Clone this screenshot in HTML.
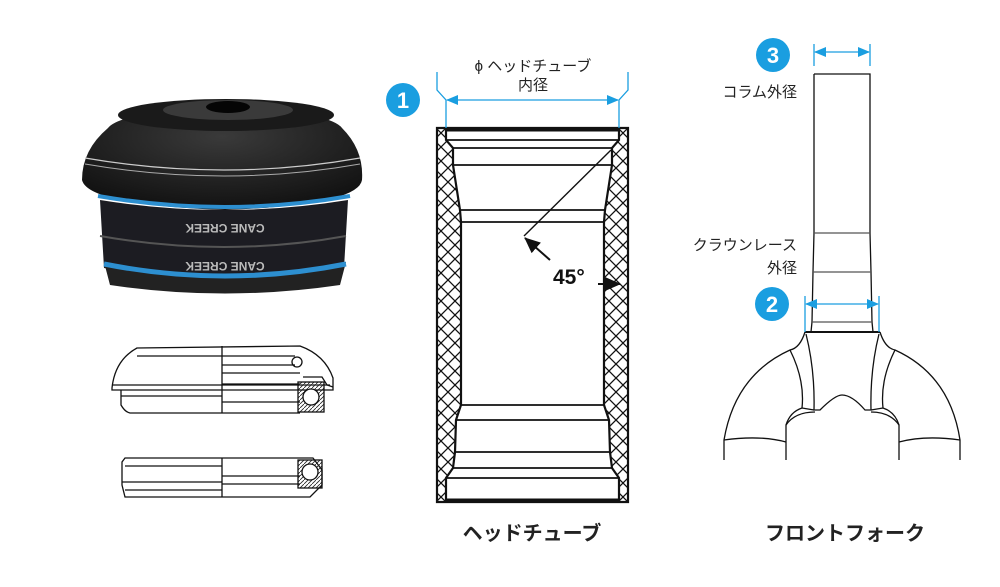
<!DOCTYPE html>
<html><head><meta charset="utf-8"><style>
html,body{margin:0;padding:0;background:#fff;}
svg{display:block;font-family:"Liberation Sans","Noto Sans CJK JP",sans-serif;}
</style></head><body>
<svg width="1000" height="587" viewBox="0 0 1000 587" xmlns="http://www.w3.org/2000/svg">
<defs>
<pattern id="h" width="14" height="14" patternUnits="userSpaceOnUse">
<path d="M0 0L14 14M14 0L0 14" stroke="#111" stroke-width="1.3"/>
</pattern>
<pattern id="hs" width="4" height="4" patternUnits="userSpaceOnUse">
<path d="M0 4L4 0" stroke="#222" stroke-width="0.8"/>
</pattern>
<marker id="a" markerWidth="12" markerHeight="10" refX="11" refY="5" orient="auto" markerUnits="userSpaceOnUse"><path d="M0 0L12 5L0 10z" fill="#1a9ee0"/></marker>
<marker id="k" markerWidth="16" markerHeight="14" refX="15" refY="7" orient="auto" markerUnits="userSpaceOnUse"><path d="M0 0L16 7L0 14z" fill="#111"/></marker>
<radialGradient id="g" cx="0.5" cy="0.3" r="0.8"><stop offset="0" stop-color="#3a3a3a"/><stop offset="1" stop-color="#0c0c0c"/></radialGradient>
</defs>

<!-- Headset photo -->
<g>
<path d="M82 180 Q82 150 108 128 Q120 112 225 105 Q330 112 342 128 Q364 150 362 180 Q358 205 225 210 Q88 205 82 180z" fill="url(#g)"/>
<ellipse cx="226" cy="115" rx="108" ry="16" fill="#1a1a1a"/>
<ellipse cx="228" cy="110" rx="65" ry="10" fill="#3a3a3a"/>
<ellipse cx="228" cy="107" rx="22" ry="6" fill="#050505"/>
<path d="M85 158 Q225 182 360 158" stroke="#ccc" stroke-width="1.2" fill="none"/>
<path d="M85 164 Q225 188 360 164" stroke="#aaa" stroke-width="1" fill="none"/>
<path d="M100 200 Q225 220 348 200 L344 268 Q225 290 104 268z" fill="#1c1c22"/>
<path d="M98 196 Q225 218 350 196" stroke="#2d8fd0" stroke-width="4" fill="none"/>
<path d="M100 236 Q225 258 346 236" stroke="#555" stroke-width="2" fill="none"/>
<path d="M104 262 Q225 286 346 262 L340 285 Q225 302 110 285z" fill="#222"/>
<path d="M104 264 Q225 288 346 264" stroke="#2d8fd0" stroke-width="5" fill="none"/>
<text x="225" y="232" font-size="12" font-weight="bold" fill="#bbb" text-anchor="middle" transform="rotate(180 225 228)">CANE CREEK</text>
<text x="225" y="270" font-size="12" font-weight="bold" fill="#bbb" text-anchor="middle" transform="rotate(180 225 266)">CANE CREEK</text>
</g>

<!-- Bearing schematics -->
<g stroke="#111" fill="none" stroke-width="1.3">
<path d="M112 388 Q115 360 137 348 L300 346 Q325 355 333 378 L333 390 L112 390z" fill="#fff"/>
<path d="M112 385 L330 385 M121 390 L121 405 Q125 412 130 413 L300 413"/>
<path d="M121 396 L222 396 M137 356 L222 356 M222 346 L222 413"/>
<path d="M222 356 L295 356 M222 365 L295 365 M222 373 L300 373 M222 384 L300 384 M222 402 L300 402"/>
<circle cx="297" cy="362" r="5"/>
<rect x="298" y="382" width="26" height="30" fill="url(#hs)"/>
<circle cx="311" cy="397" r="8" fill="#fff"/>
<path d="M303 377 L322 377 L327 385 L333 387"/>
<path d="M122 462 L122 485 L125 497 L310 497 L322 485 L322 470 L313 458 L125 458z"/>
<path d="M125 466 L222 466 M122 482 L222 482 M125 490 L222 490 M222 458 L222 497 M222 476 L300 476 M222 484 L300 484"/>
<rect x="298" y="460" width="24" height="28" fill="url(#hs)"/>
<circle cx="310" cy="472" r="8" fill="#fff"/>
</g>

<!-- Head tube -->
<g>
<path d="M437 128 L628 128 L628 502 L437 502z M446 129 L446 140 L453 148 L453 165 L460 210 L461 222 L461 405 L456 420 L455 452 L453 468 L446 478 L446 500 L619 500 L619 478 L612 468 L610 452 L609 420 L604 405 L604 222 L605 210 L612 165 L612 148 L619 140 L619 129z" fill="url(#h)" fill-rule="evenodd" stroke="#111" stroke-width="2.2"/>
<g stroke="#111" stroke-width="1.8">
<line x1="446" y1="130" x2="619" y2="130" stroke-width="3"/>
<line x1="446" y1="140" x2="619" y2="140"/>
<line x1="453" y1="148" x2="612" y2="148"/>
<line x1="453" y1="165" x2="612" y2="165"/>
<line x1="460" y1="210" x2="605" y2="210"/>
<line x1="461" y1="222" x2="604" y2="222"/>
<line x1="461" y1="405" x2="604" y2="405"/>
<line x1="456" y1="420" x2="609" y2="420"/>
<line x1="455" y1="452" x2="610" y2="452"/>
<line x1="453" y1="468" x2="612" y2="468"/>
<line x1="446" y1="478" x2="619" y2="478"/>
<line x1="446" y1="500" x2="619" y2="500" stroke-width="3"/>
<line x1="611" y1="150" x2="524" y2="236" stroke-width="1.4"/>
<line x1="550" y1="260" x2="525" y2="238" marker-end="url(#k)" stroke-width="2"/>
<line x1="598" y1="284" x2="620" y2="284" marker-end="url(#k)" stroke-width="2"/>
</g>
<text x="553" y="284" font-size="21" font-weight="bold" fill="#111">45°</text>
<g stroke="#1a9ee0" stroke-width="1.3" fill="none">
<path d="M437 72 L437 90 L446 100 L446 128"/>
<path d="M628 72 L628 90 L619 100 L619 128"/>
<line x1="532" y1="100" x2="618" y2="100" marker-end="url(#a)"/>
<line x1="532" y1="100" x2="447" y2="100" marker-end="url(#a)"/>
</g>
<text x="533" y="71" font-size="15" fill="#222" text-anchor="middle">ϕ ヘッドチューブ</text>
<text x="533" y="90" font-size="15" fill="#222" text-anchor="middle">内径</text>
<circle cx="403" cy="100" r="17" fill="#1a9ee0"/>
<text x="403" y="108" font-size="22" font-weight="bold" fill="#fff" text-anchor="middle">1</text>
<text x="532" y="540" font-size="20" font-weight="bold" fill="#222" text-anchor="middle">ヘッドチューブ</text>
</g>

<!-- Fork -->
<g stroke="#111" fill="none" stroke-width="1.3">
<path d="M814 74 L870 74 L870 233 L871 272 L872 322 L873 332 M814 74 L814 233 L813 272 L812 322 L811 332"/>
<path d="M814 233 L870 233 M813 272 L871 272 M812 322 L872 322" stroke="#555"/>
<line x1="805" y1="332" x2="880" y2="332" stroke-width="2"/>
<path d="M805 332 Q800 348 790 350 Q735 375 724 440 L724 460"/>
<path d="M880 332 Q885 348 895 350 Q950 375 960 440 L960 460"/>
<path d="M790 350 Q805 380 802 408 Q790 412 786 425 L786 460"/>
<path d="M895 350 Q880 380 883 408 Q895 412 899 425 L899 460"/>
<path d="M806 334 Q815 370 814 410 L820 410 Q835 395 842 395 Q852 395 865 410 L871 410 Q870 370 879 334"/>
<path d="M786 425 Q795 412 815 412 M899 425 Q890 412 871 412"/>
<path d="M724 440 Q760 435 786 442 M960 440 Q925 435 899 442"/>
<path d="M802 408 L814 410 M883 408 L871 410"/>
</g>
<g stroke="#1a9ee0" stroke-width="1.3" fill="none">
<line x1="814" y1="44" x2="814" y2="66"/>
<line x1="870" y1="44" x2="870" y2="66"/>
<line x1="842" y1="52" x2="815" y2="52" marker-end="url(#a)"/>
<line x1="842" y1="52" x2="869" y2="52" marker-end="url(#a)"/>
<line x1="805" y1="296" x2="805" y2="332"/>
<line x1="879" y1="296" x2="879" y2="332"/>
<line x1="842" y1="304" x2="806" y2="304" marker-end="url(#a)"/>
<line x1="842" y1="304" x2="878" y2="304" marker-end="url(#a)"/>
</g>
<circle cx="773" cy="55" r="17" fill="#1a9ee0"/>
<text x="773" y="63" font-size="22" font-weight="bold" fill="#fff" text-anchor="middle">3</text>
<circle cx="772" cy="304" r="17" fill="#1a9ee0"/>
<text x="772" y="312" font-size="22" font-weight="bold" fill="#fff" text-anchor="middle">2</text>
<text x="797" y="97" font-size="15" fill="#222" text-anchor="end">コラム外径</text>
<text x="797" y="250" font-size="15" fill="#222" text-anchor="end">クラウンレース</text>
<text x="797" y="273" font-size="15" fill="#222" text-anchor="end">外径</text>
<text x="845" y="540" font-size="20" font-weight="bold" fill="#222" text-anchor="middle">フロントフォーク</text>
</svg>
</body></html>
